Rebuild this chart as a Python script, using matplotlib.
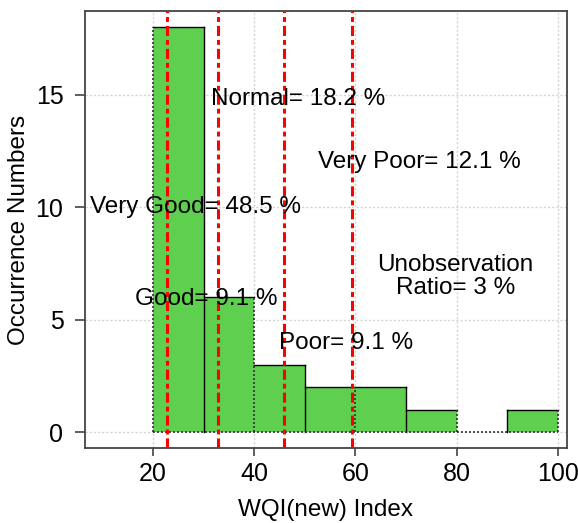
import matplotlib
matplotlib.use("Agg")
import matplotlib.pyplot as plt

# --- data ---
bin_edges = [20, 30, 40, 50, 60, 70, 80, 90, 100]
counts = [18, 6, 3, 2, 2, 1, 0, 1]
thresholds = [22.8, 32.8, 45.9, 59.3]

class_labels = ["Very Good= 48.5 %", "Good= 9.1 %", "Normal= 18.2 %",
                "Poor= 9.1 %", "Very Poor= 12.1 %", "Unobservation\nRatio= 3 %"]
label_pos = [(28.5, 10.0), (30.6, 5.9), (48.6, 14.8),
             (58.1, 3.95), (72.7, 12.0), (79.8, 6.9)]

plt.rcParams['font.family'] = ['Liberation Sans', 'DejaVu Sans']

fig = plt.figure(figsize=(5.78, 5.23), dpi=100)
ax = fig.add_axes([0.147, 0.143, 0.834, 0.836])

# grid behind
for gx in [20, 40, 60, 80, 100]:
    ax.axvline(gx, color='#d3d3d3', linestyle=(0, (1.5, 1.5)), linewidth=1, zorder=0)
for gy in [0, 5, 10, 15]:
    ax.axhline(gy, color='#d3d3d3', linestyle=(0, (1.5, 1.5)), linewidth=1, zorder=0)

# bars (fill only)
lefts = bin_edges[:-1]
widths = [b - a for a, b in zip(bin_edges[:-1], bin_edges[1:])]
ax.bar(lefts, counts, width=widths, align='edge', color='#5fcf4f',
       edgecolor='none', zorder=2)

# outlines: solid edges, dotted where they sit on grid lines
dot = (0, (1.2, 1.2))
for i, (a, b, h) in enumerate(zip(bin_edges[:-1], bin_edges[1:], counts)):
    if h > 0:
        ax.plot([a, b], [h, h], color='black', linewidth=1, zorder=3)
for j, x in enumerate(bin_edges):
    hl = counts[j - 1] if j > 0 else 0
    hr = counts[j] if j < len(counts) else 0
    top = max(hl, hr)
    if top == 0:
        continue
    if x % 20 == 0:
        ax.plot([x, x], [0, top], color='#333333', linestyle=dot, linewidth=1.2, zorder=3)
    else:
        ax.plot([x, x], [0, top], color='black', linewidth=1, zorder=3)
ax.plot([bin_edges[0], bin_edges[-1]], [0, 0], color='#333333', linestyle=dot,
        linewidth=1.2, zorder=3)

# class thresholds
for t in thresholds:
    ax.axvline(t, color='red', linestyle=(0, (3.3, 1.3, 1.6, 1.3)), linewidth=2.2, zorder=4)

for txt, (x, y) in zip(class_labels, label_pos):
    ax.text(x, y, txt, ha='center', va='center', fontsize=17.5, zorder=5,
            linespacing=1.05)

ax.set_xlim(6.57, 101.78)
ax.set_ylim(-0.72, 18.72)
ax.set_xticks([20, 40, 60, 80, 100])
ax.set_yticks([0, 5, 10, 15])
ax.tick_params(labelsize=18, width=1.2, color='#444444', direction='out')
ax.tick_params(axis='x', length=6, pad=4)
ax.tick_params(axis='y', length=7.5, pad=8)
for s in ax.spines.values():
    s.set_color('#444444')
    s.set_linewidth(1.3)
ax.set_xlabel('WQI(new) Index', fontsize=17.5, labelpad=9)
ax.set_ylabel('Occurrence Numbers', fontsize=17.5, labelpad=4)

fig.savefig('out.png', dpi=100)
